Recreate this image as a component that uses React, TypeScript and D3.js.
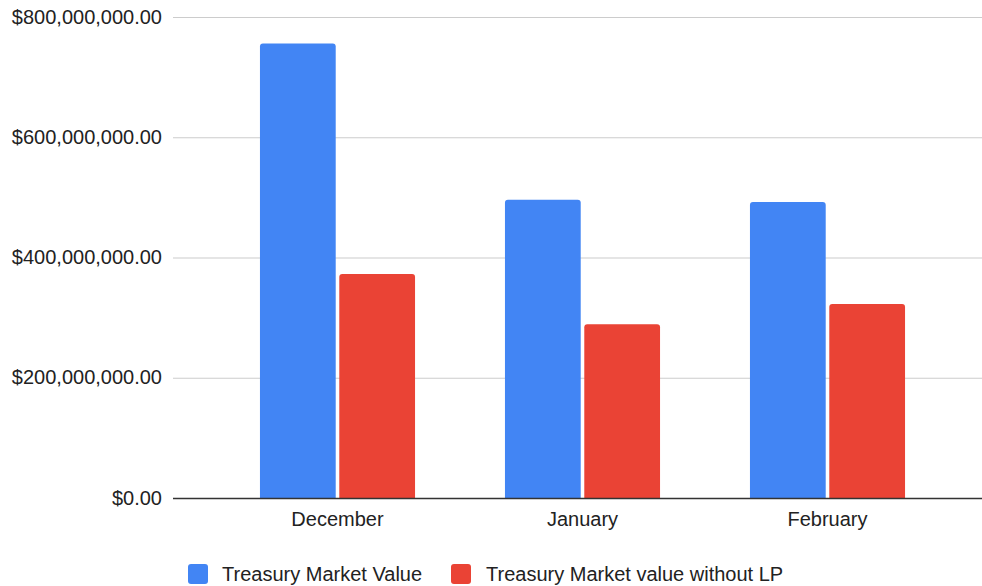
import React from "react";
import * as d3 from "d3";

// Monthly treasury values (USD)
const months = ["December", "January", "February"];
const seriesNames = ["Treasury Market Value", "Treasury Market value without LP"];
const marketValue = [756700000, 496700000, 493300000];
const marketValueWithoutLP = [373300000, 290000000, 323300000];
const yTicks = [0, 200000000, 400000000, 600000000, 800000000];
const colors = ["#4285F4", "#EA4335"];

const W = 982;
const H = 586;
const FONT = "'Liberation Sans', Arial, Helvetica, sans-serif";

export default function App() {
  const plotLeft = 173;
  const plotRight = W;
  const y = d3.scaleLinear().domain([0, 800000000]).range([498.5, 17.5]);

  const x = d3
    .scaleBand<string>()
    .domain(months)
    .range([215, 950])
    .paddingInner(0.367)
    .paddingOuter(0.1835);

  const xs = d3
    .scaleBand<string>()
    .domain(seriesNames)
    .range([0, x.bandwidth()])
    .paddingInner(0.045);

  const values = [marketValue, marketValueWithoutLP];
  const fmt = (v: number) => "$" + d3.format(",.2f")(v);

  // bar with rounded top corners
  const barPath = (x0: number, w: number, top: number, bottom: number) => {
    const r = Math.min(3, (bottom - top) / 2);
    return `M${x0},${bottom}V${top + r}Q${x0},${top} ${x0 + r},${top}H${x0 + w - r}Q${x0 + w},${top} ${x0 + w},${top + r}V${bottom}Z`;
  };

  return (
    <svg
      width={W}
      height={H}
      style={{ position: "fixed", left: 0, top: 0, background: "#fff" }}
      fontFamily={FONT}
    >
      {yTicks.map((t) => (
        <g key={t}>
          {t !== 0 && (
            <line x1={plotLeft} x2={plotRight} y1={y(t)} y2={y(t)} stroke="#cccccc" strokeWidth={1.2} />
          )}
          <text x={162} y={y(t) + 6} textAnchor="end" fontSize={20} fill="#222">
            {fmt(t)}
          </text>
        </g>
      ))}

      {months.map((m, i) => (
        <g key={m} transform={`translate(${x(m)},0)`}>
          {seriesNames.map((s, j) => (
            <path
              key={s}
              d={barPath(xs(s)!, xs.bandwidth(), y(values[j][i]), y(0))}
              fill={colors[j]}
            />
          ))}
          <text x={x.bandwidth() / 2} y={526} textAnchor="middle" fontSize={20} fill="#222">
            {m}
          </text>
        </g>
      ))}

      <line x1={plotLeft} x2={plotRight} y1={y(0)} y2={y(0)} stroke="#333" strokeWidth={1.5} />

      <g>
        {[
          { x: 188, tx: 222 },
          { x: 451, tx: 486 },
        ].map((p, j) => (
          <g key={j}>
            <rect x={p.x} y={564} width={20} height={20} rx={3} fill={colors[j]} />
            <text x={p.tx} y={581} fontSize={20} fill="#222">
              {seriesNames[j]}
            </text>
          </g>
        ))}
      </g>
    </svg>
  );
}
